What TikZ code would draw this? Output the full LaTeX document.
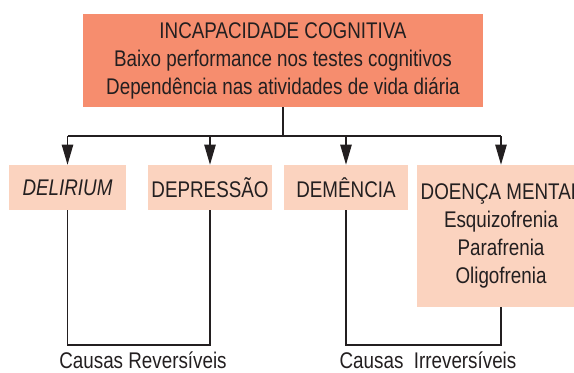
\documentclass[tikz,border=0pt]{standalone}
\usepackage{fontspec}
\setmainfont{Liberation Sans}[FakeStretch=0.83]
\usetikzlibrary{arrows.meta}
\definecolor{salmon}{HTML}{F68D6E}
\definecolor{peach}{HTML}{FBD3BF}
\definecolor{ink}{HTML}{231F20}
\tikzstyle{head} = [rectangle, fill=salmon, align=center, inner sep=0pt, minimum width=300pt, minimum height=69.75pt]
\tikzstyle{cause} = [rectangle, fill=peach, align=center, inner sep=0pt, minimum height=33.75pt]
\tikzstyle{wire} = [draw, ink, line width=1pt]
\tikzstyle{line} = [wire, -{Triangle[length=15pt, width=8.5pt]}]

\begin{document}
\begin{tikzpicture}[x=0.75pt, y=-0.75pt, font=\fontsize{17}{21}\selectfont, text=ink]
\useasboundingbox (0,0) rectangle (574,372);

\node [head] at (283, 60.5) (incap) {INCAPACIDADE COGNITIVA\\ Baixo performance nos testes cognitivos\\ Dependência nas atividades de vida diária};

% causes

\node [cause, minimum width=87.75pt] at (67.5, 187.5) (delirium) {\textit{DELIRIUM}};
\node [cause, minimum width=93pt] at (210, 187.5) (depressao) {DEPRESSÃO};
\node [cause, minimum width=93pt] at (346, 187.5) (demencia) {DEMÊNCIA};
\node [cause, minimum width=126pt, minimum height=106.5pt] at (501, 236) (doenca) {DOENÇA MENTAL\\ Esquizofrenia\\ Parafrenia\\ Oligofrenia};

% tree

\coordinate (fork) at (283, 136);
\path [wire] (incap.south) to (fork);
\path [wire] (delirium.north |- fork) to (doenca.north |- fork);
\path [line] (delirium.north |- fork) to (delirium.north);
\path [line] (depressao.north |- fork) to (depressao.north);
\path [line] (demencia.north |- fork) to (demencia.north);
\path [line] (doenca.north |- fork) to (doenca.north);

% groups

\coordinate (base) at (0, 345);
\path [wire] (delirium.south) -- (delirium.south |- base) -| (depressao.south);
\path [wire] (demencia.south) -- (demencia.south |- base) -| (doenca.south);
\node [inner sep=0pt] at (143, 360) (rev) {Causas Reversíveis};
\node [inner sep=0pt] at (428, 360) (irrev) {Causas\ \ Irreversíveis};

\end{tikzpicture}
\end{document}
